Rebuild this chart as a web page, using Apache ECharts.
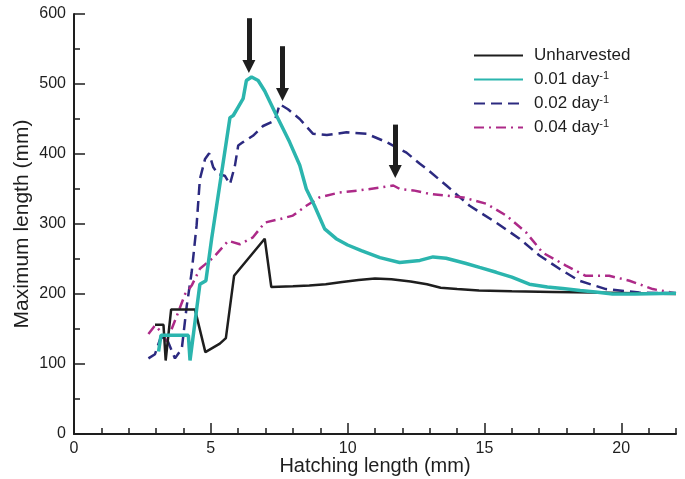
<!DOCTYPE html>
<html>
<head>
<meta charset="utf-8">
<script src="https://cdn.jsdelivr.net/npm/echarts@6/dist/echarts.min.js"></script>
<style>
  html, body { margin: 0; padding: 0; background: #fff; }
  #main { width: 685px; height: 479px; }
</style>
</head>
<body>
<div id="main"></div>
<script>
// values: [hatching length (mm), maximum length (mm)]
var unharvested = [[2.96,156],[3.27,156],[3.35,105],[3.55,178],[4.42,178],[4.80,117],[5.33,129],[5.55,137],
  [5.85,226],[6.97,279],[7.21,210],[8.0,211],[8.6,212],[9.2,214],[9.8,217],[10.4,220],[11.0,222],[11.6,221],
  [12.3,218],[12.9,214],[13.4,209],[14.0,207],[14.8,205],[16.0,204],[17.5,203],[19.0,202],[20.5,201],[22,200]];
var rate001 = [[3.09,118],[3.18,141],[4.18,141],[4.24,105],[4.60,214],[4.82,219],[5.03,279],[5.58,421],[5.70,452],
  [5.82,455],[6.0,467],[6.18,479],[6.30,505],[6.49,510],[6.73,505],[6.97,490],[7.40,455],[7.88,417],[8.25,384],
  [8.49,350],[8.79,326],[9.16,293],[9.58,279],[10.0,270],[10.5,262],[11.18,252],[11.9,245],[12.64,248],[13.12,253],
  [13.6,251],[14.3,244],[14.82,238],[15.43,231],[16.0,224],[16.64,214],[17.3,210],[17.86,208],[18.5,205],
  [19.06,203],[19.68,200],[20.5,200],[22,201]];
var rate002 = [[2.72,108],[2.96,114],[3.15,136],[3.35,140],[3.69,108],[3.94,122],[4.12,183],[4.30,231],[4.48,298],
  [4.60,364],[4.79,393],[4.94,401],[5.09,381],[5.27,371],[5.51,369],[5.70,357],[5.88,383],[6.0,412],[6.18,417],
  [6.54,426],[6.91,440],[7.34,448],[7.52,471],[7.82,464],[8.25,450],[8.73,429],[9.24,427],[9.96,431],[10.69,429],
  [11.42,417],[12.15,402],[12.64,386],[12.88,379],[13.61,355],[14.46,326],[15.43,302],[16.28,279],[17.01,255],
  [17.74,236],[18.46,219],[19.44,207],[20.66,202],[22,201]];
var rate004 = [[2.72,143],[2.96,155],[3.21,145],[3.39,132],[3.81,174],[4.06,200],[4.30,212],[4.60,236],[5.09,252],
  [5.64,276],[6.06,271],[6.54,281],[6.97,302],[7.52,307],[8.0,312],[8.49,326],[8.97,338],[9.70,345],[10.43,348],
  [11.18,352],[11.67,355],[11.91,350],[12.4,348],[13.0,343],[14.22,338],[15.06,329],[15.8,312],[16.52,288],
  [17.13,259],[17.96,241],[18.7,226],[19.56,226],[20.3,219],[21.15,207],[22,201]];

var seriesNames = ['Unharvested', '0.01 day-1', '0.02 day-1', '0.04 day-1'];
var xMajorTicks = [0, 5, 10, 15, 20];
var yTicks = [0, 100, 200, 300, 400, 500, 600];

// peak arrows: x, top of shaft, tip
var arrowX = [6.39, 7.62, 11.74];
var arrowTop = [594, 554, 442];
var arrowTip = [516, 476, 366];

var font = 'Liberation Sans, Arial, Helvetica, sans-serif';
var ink = '#1e1e1e';

var arrowData = arrowX.map(function (x, i) {
  // triangle sits centred on the end point, so stop the shaft a little short of the tip
  return [{ coord: [x, arrowTop[i]] }, { coord: [x, arrowTip[i] + 9] }];
});

var chart = echarts.init(document.getElementById('main'), null, { renderer: 'canvas' });

var option = {
  animation: false,
  backgroundColor: '#fff',
  grid: { left: 74, right: 9, top: 14, bottom: 45, containLabel: false, outerBoundsMode: 'none' },
  legend: {
    orient: 'vertical',
    left: 473,
    top: 47,
    padding: 0,
    itemWidth: 49,
    itemHeight: 12,
    itemGap: 6,
    data: seriesNames,
    itemStyle: { opacity: 0 },
    textStyle: {
      fontFamily: font,
      fontSize: 17,
      color: ink,
      padding: [0, 0, 0, 6],
      rich: {
        t: { fontFamily: font, fontSize: 17, color: ink },
        s: { fontFamily: font, fontSize: 11, color: ink, padding: [0, 0, 8, 0] }
      }
    },
    formatter: function (name) {
      var m = name.match(/^(.*) day-1$/);
      if (!m) return '{t|' + name + '}';
      return '{t|' + m[1] + ' day}{s|-1}';
    }
  },
  xAxis: [{
    type: 'value',
    min: 0,
    max: 22,
    interval: 1,
    name: 'Hatching length (mm)',
    nameLocation: 'middle',
    nameGap: 22,
    nameMoveOverlap: false,
    nameTextStyle: { fontFamily: font, fontSize: 20, color: ink },
    axisLine: { show: true, lineStyle: { color: ink, width: 2 } },
    axisTick: { show: true, inside: true, length: 6, lineStyle: { color: ink, width: 1.5 } },
    axisLabel: { customValues: xMajorTicks, fontFamily: font, fontSize: 16, color: ink, margin: 7 },
    splitLine: { show: false }
  }, {
    type: 'value',
    min: 0,
    max: 22,
    position: 'bottom',
    axisLine: { show: false },
    axisTick: { show: true, inside: true, length: 11, customValues: xMajorTicks, lineStyle: { color: ink, width: 1.5 } },
    axisLabel: { show: false },
    splitLine: { show: false }
  }],
  yAxis: {
    type: 'value',
    min: 0,
    max: 600,
    interval: 100,
    name: 'Maximum length (mm)',
    nameLocation: 'middle',
    nameGap: 41,
    nameMoveOverlap: false,
    nameTextStyle: { fontFamily: font, fontSize: 21, color: ink },
    axisLine: { show: true, lineStyle: { color: ink, width: 2 } },
    axisTick: { show: true, inside: true, length: 11, lineStyle: { color: ink, width: 1.5 } },
    minorTick: { show: true, splitNumber: 2, length: 6, lineStyle: { color: ink, width: 1.5 } },
    axisLabel: { customValues: yTicks, fontFamily: font, fontSize: 16, color: ink, margin: 8 },
    splitLine: { show: false }
  },
  series: [{
    name: seriesNames[0],
    type: 'line',
    data: unharvested,
    showSymbol: false,
    symbol: 'none',
    color: '#1e1e1e',
    lineStyle: { color: '#1e1e1e', width: 2.5 },
    markLine: {
      silent: true,
      symbol: ['none', 'triangle'],
      symbolSize: [13, 13],
      label: { show: false },
      lineStyle: { color: '#1e1e1e', width: 5, type: 'solid' },
      data: arrowData
    },
    z: 3
  }, {
    name: seriesNames[1],
    type: 'line',
    data: rate001,
    showSymbol: false,
    symbol: 'none',
    color: '#2bb5ae',
    lineStyle: { color: '#2bb5ae', width: 3.5 },
    z: 4
  }, {
    name: seriesNames[2],
    type: 'line',
    data: rate002,
    showSymbol: false,
    symbol: 'none',
    color: '#2c2a80',
    lineStyle: { color: '#2c2a80', width: 2.5, type: [11, 6] },
    z: 2
  }, {
    name: seriesNames[3],
    type: 'line',
    data: rate004,
    showSymbol: false,
    symbol: 'none',
    color: '#ad2a88',
    lineStyle: { color: '#ad2a88', width: 2.5, type: [10, 5, 2, 5] },
    z: 2
  }]
};

chart.setOption(option);
</script>
</body>
</html>
